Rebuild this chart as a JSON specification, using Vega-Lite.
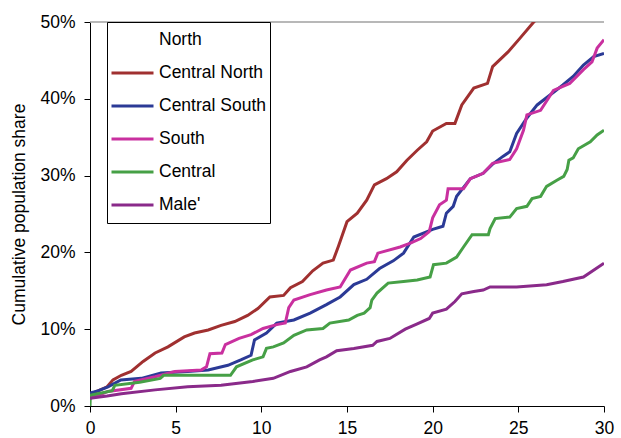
{
  "$schema": "https://vega.github.io/schema/vega-lite/v6.json",
  "autosize": {"type": "none"},
  "padding": {"left": 90, "top": 22, "right": 17, "bottom": 32},
  "width": 514,
  "height": 384,
  "config": {
    "view": {"stroke": null},
    "font": "Liberation Sans",
    "axis": {
      "grid": false,
      "domainColor": "#000000",
      "domainWidth": 1,
      "tickColor": "#000000",
      "tickSize": 6,
      "labelColor": "#000000",
      "labelFont": "Liberation Sans",
      "labelFontSize": 17.5,
      "labelFlush": false,
      "titleFont": "Liberation Sans",
      "titleFontSize": 17.5,
      "titleFontWeight": "normal",
      "titleColor": "#000000"
    }
  },
  "datasets": {
    "lines": [
      {"region": "Central North", "x": 0, "y": 0.015},
      {"region": "Central North", "x": 0.5, "y": 0.02},
      {"region": "Central North", "x": 1.0, "y": 0.025},
      {"region": "Central North", "x": 1.34, "y": 0.034},
      {"region": "Central North", "x": 1.83, "y": 0.04},
      {"region": "Central North", "x": 2.4, "y": 0.045},
      {"region": "Central North", "x": 3.1, "y": 0.058},
      {"region": "Central North", "x": 3.8, "y": 0.069},
      {"region": "Central North", "x": 4.55, "y": 0.077},
      {"region": "Central North", "x": 5.5, "y": 0.09},
      {"region": "Central North", "x": 6.1, "y": 0.095},
      {"region": "Central North", "x": 6.9, "y": 0.099},
      {"region": "Central North", "x": 7.65, "y": 0.105},
      {"region": "Central North", "x": 8.45, "y": 0.11},
      {"region": "Central North", "x": 9.2, "y": 0.118},
      {"region": "Central North", "x": 9.8, "y": 0.127},
      {"region": "Central North", "x": 10.5, "y": 0.142},
      {"region": "Central North", "x": 11.3, "y": 0.144},
      {"region": "Central North", "x": 11.7, "y": 0.154},
      {"region": "Central North", "x": 12.4, "y": 0.162},
      {"region": "Central North", "x": 13.0, "y": 0.176},
      {"region": "Central North", "x": 13.6, "y": 0.186},
      {"region": "Central North", "x": 14.2, "y": 0.19},
      {"region": "Central North", "x": 14.5, "y": 0.208},
      {"region": "Central North", "x": 15.0, "y": 0.24},
      {"region": "Central North", "x": 15.6, "y": 0.251},
      {"region": "Central North", "x": 16.15, "y": 0.268},
      {"region": "Central North", "x": 16.6, "y": 0.288},
      {"region": "Central North", "x": 17.3, "y": 0.296},
      {"region": "Central North", "x": 17.9, "y": 0.305},
      {"region": "Central North", "x": 18.5, "y": 0.32},
      {"region": "Central North", "x": 19.1, "y": 0.333},
      {"region": "Central North", "x": 19.65, "y": 0.344},
      {"region": "Central North", "x": 20.0, "y": 0.358},
      {"region": "Central North", "x": 20.8, "y": 0.368},
      {"region": "Central North", "x": 21.3, "y": 0.368},
      {"region": "Central North", "x": 21.7, "y": 0.392},
      {"region": "Central North", "x": 22.4, "y": 0.414},
      {"region": "Central North", "x": 23.2, "y": 0.42},
      {"region": "Central North", "x": 23.5, "y": 0.442},
      {"region": "Central North", "x": 24.4, "y": 0.461},
      {"region": "Central North", "x": 25.1, "y": 0.479},
      {"region": "Central North", "x": 25.9, "y": 0.5},
      {"region": "Central North", "x": 26.5, "y": 0.512},

      {"region": "Central South", "x": 0, "y": 0.017},
      {"region": "Central South", "x": 0.5, "y": 0.02},
      {"region": "Central South", "x": 1.05, "y": 0.025},
      {"region": "Central South", "x": 1.8, "y": 0.034},
      {"region": "Central South", "x": 3.0, "y": 0.036},
      {"region": "Central South", "x": 4.15, "y": 0.043},
      {"region": "Central South", "x": 5.7, "y": 0.045},
      {"region": "Central South", "x": 6.9, "y": 0.047},
      {"region": "Central South", "x": 8.05, "y": 0.053},
      {"region": "Central South", "x": 8.8, "y": 0.06},
      {"region": "Central South", "x": 9.4, "y": 0.066},
      {"region": "Central South", "x": 9.6, "y": 0.086},
      {"region": "Central South", "x": 10.3, "y": 0.095},
      {"region": "Central South", "x": 10.9, "y": 0.108},
      {"region": "Central South", "x": 11.9, "y": 0.112},
      {"region": "Central South", "x": 12.85, "y": 0.121},
      {"region": "Central South", "x": 13.8, "y": 0.132},
      {"region": "Central South", "x": 14.6, "y": 0.142},
      {"region": "Central South", "x": 15.4, "y": 0.158},
      {"region": "Central South", "x": 16.15, "y": 0.165},
      {"region": "Central South", "x": 16.9, "y": 0.179},
      {"region": "Central South", "x": 17.7, "y": 0.189},
      {"region": "Central South", "x": 18.3, "y": 0.199},
      {"region": "Central South", "x": 18.9, "y": 0.22},
      {"region": "Central South", "x": 20.0, "y": 0.23},
      {"region": "Central South", "x": 20.6, "y": 0.234},
      {"region": "Central South", "x": 20.8, "y": 0.251},
      {"region": "Central South", "x": 21.2, "y": 0.26},
      {"region": "Central South", "x": 21.4, "y": 0.273},
      {"region": "Central South", "x": 22.2, "y": 0.296},
      {"region": "Central South", "x": 22.95, "y": 0.303},
      {"region": "Central South", "x": 23.5, "y": 0.315},
      {"region": "Central South", "x": 24.1, "y": 0.325},
      {"region": "Central South", "x": 24.5, "y": 0.331},
      {"region": "Central South", "x": 24.9, "y": 0.355},
      {"region": "Central South", "x": 25.5, "y": 0.375},
      {"region": "Central South", "x": 26.1, "y": 0.392},
      {"region": "Central South", "x": 26.85, "y": 0.405},
      {"region": "Central South", "x": 27.6, "y": 0.418},
      {"region": "Central South", "x": 28.2, "y": 0.429},
      {"region": "Central South", "x": 28.8, "y": 0.444},
      {"region": "Central South", "x": 29.4, "y": 0.455},
      {"region": "Central South", "x": 30.0, "y": 0.459},

      {"region": "South", "x": 0, "y": 0.01},
      {"region": "South", "x": 0.5, "y": 0.014},
      {"region": "South", "x": 1.05, "y": 0.019},
      {"region": "South", "x": 2.4, "y": 0.023},
      {"region": "South", "x": 2.6, "y": 0.032},
      {"region": "South", "x": 3.8, "y": 0.038},
      {"region": "South", "x": 4.95, "y": 0.045},
      {"region": "South", "x": 6.5, "y": 0.047},
      {"region": "South", "x": 6.8, "y": 0.051},
      {"region": "South", "x": 7.0, "y": 0.068},
      {"region": "South", "x": 7.7, "y": 0.069},
      {"region": "South", "x": 7.9, "y": 0.08},
      {"region": "South", "x": 8.7, "y": 0.088},
      {"region": "South", "x": 9.4, "y": 0.093},
      {"region": "South", "x": 10.1, "y": 0.101},
      {"region": "South", "x": 10.9, "y": 0.106},
      {"region": "South", "x": 11.4, "y": 0.108},
      {"region": "South", "x": 11.6, "y": 0.128},
      {"region": "South", "x": 11.9, "y": 0.138},
      {"region": "South", "x": 12.85, "y": 0.145},
      {"region": "South", "x": 13.8, "y": 0.151},
      {"region": "South", "x": 14.6, "y": 0.155},
      {"region": "South", "x": 15.2, "y": 0.177},
      {"region": "South", "x": 16.15, "y": 0.186},
      {"region": "South", "x": 16.6, "y": 0.188},
      {"region": "South", "x": 16.8, "y": 0.199},
      {"region": "South", "x": 18.1, "y": 0.207},
      {"region": "South", "x": 18.7, "y": 0.212},
      {"region": "South", "x": 19.3, "y": 0.218},
      {"region": "South", "x": 19.8, "y": 0.227},
      {"region": "South", "x": 20.0, "y": 0.245},
      {"region": "South", "x": 20.4, "y": 0.262},
      {"region": "South", "x": 20.8, "y": 0.268},
      {"region": "South", "x": 20.9, "y": 0.283},
      {"region": "South", "x": 21.8, "y": 0.283},
      {"region": "South", "x": 22.2, "y": 0.296},
      {"region": "South", "x": 22.95, "y": 0.303},
      {"region": "South", "x": 23.5, "y": 0.316},
      {"region": "South", "x": 24.5, "y": 0.321},
      {"region": "South", "x": 24.9, "y": 0.335},
      {"region": "South", "x": 25.3, "y": 0.359},
      {"region": "South", "x": 25.5, "y": 0.379},
      {"region": "South", "x": 26.3, "y": 0.385},
      {"region": "South", "x": 27.05, "y": 0.411},
      {"region": "South", "x": 28.0, "y": 0.42},
      {"region": "South", "x": 28.8, "y": 0.438},
      {"region": "South", "x": 29.3, "y": 0.448},
      {"region": "South", "x": 29.6, "y": 0.466},
      {"region": "South", "x": 30.0, "y": 0.477},

      {"region": "Central", "x": 0, "y": 0.0},
      {"region": "Central", "x": 0.02, "y": 0.014},
      {"region": "Central", "x": 1.3, "y": 0.02},
      {"region": "Central", "x": 1.45, "y": 0.027},
      {"region": "Central", "x": 2.9, "y": 0.031},
      {"region": "Central", "x": 4.1, "y": 0.036},
      {"region": "Central", "x": 4.3, "y": 0.04},
      {"region": "Central", "x": 8.2, "y": 0.04},
      {"region": "Central", "x": 8.55, "y": 0.051},
      {"region": "Central", "x": 9.5, "y": 0.06},
      {"region": "Central", "x": 10.1, "y": 0.064},
      {"region": "Central", "x": 10.3, "y": 0.075},
      {"region": "Central", "x": 10.7, "y": 0.077},
      {"region": "Central", "x": 11.3, "y": 0.082},
      {"region": "Central", "x": 11.9, "y": 0.092},
      {"region": "Central", "x": 12.65, "y": 0.099},
      {"region": "Central", "x": 13.6, "y": 0.101},
      {"region": "Central", "x": 14.0, "y": 0.108},
      {"region": "Central", "x": 15.1, "y": 0.112},
      {"region": "Central", "x": 15.6, "y": 0.118},
      {"region": "Central", "x": 16.0, "y": 0.121},
      {"region": "Central", "x": 16.35, "y": 0.128},
      {"region": "Central", "x": 16.45, "y": 0.138},
      {"region": "Central", "x": 16.75, "y": 0.147},
      {"region": "Central", "x": 17.4, "y": 0.16},
      {"region": "Central", "x": 18.3, "y": 0.162},
      {"region": "Central", "x": 19.1, "y": 0.164},
      {"region": "Central", "x": 19.85, "y": 0.168},
      {"region": "Central", "x": 20.05, "y": 0.184},
      {"region": "Central", "x": 20.8, "y": 0.186},
      {"region": "Central", "x": 21.4, "y": 0.194},
      {"region": "Central", "x": 21.8, "y": 0.207},
      {"region": "Central", "x": 22.3, "y": 0.223},
      {"region": "Central", "x": 23.25, "y": 0.223},
      {"region": "Central", "x": 23.35, "y": 0.231},
      {"region": "Central", "x": 23.65, "y": 0.244},
      {"region": "Central", "x": 24.5, "y": 0.246},
      {"region": "Central", "x": 24.9, "y": 0.257},
      {"region": "Central", "x": 25.5, "y": 0.26},
      {"region": "Central", "x": 25.8, "y": 0.27},
      {"region": "Central", "x": 26.3, "y": 0.273},
      {"region": "Central", "x": 26.65, "y": 0.286},
      {"region": "Central", "x": 27.25, "y": 0.294},
      {"region": "Central", "x": 27.65, "y": 0.299},
      {"region": "Central", "x": 27.85, "y": 0.308},
      {"region": "Central", "x": 27.95, "y": 0.32},
      {"region": "Central", "x": 28.2, "y": 0.323},
      {"region": "Central", "x": 28.5, "y": 0.335},
      {"region": "Central", "x": 29.2, "y": 0.344},
      {"region": "Central", "x": 29.6, "y": 0.353},
      {"region": "Central", "x": 30.0, "y": 0.359},

      {"region": "Male'", "x": 0, "y": 0.01},
      {"region": "Male'", "x": 1.0, "y": 0.013},
      {"region": "Male'", "x": 1.83, "y": 0.016},
      {"region": "Male'", "x": 3.8, "y": 0.021},
      {"region": "Male'", "x": 5.7, "y": 0.025},
      {"region": "Male'", "x": 7.65, "y": 0.027},
      {"region": "Male'", "x": 9.5, "y": 0.032},
      {"region": "Male'", "x": 10.7, "y": 0.036},
      {"region": "Male'", "x": 11.7, "y": 0.045},
      {"region": "Male'", "x": 12.65, "y": 0.051},
      {"region": "Male'", "x": 13.4, "y": 0.06},
      {"region": "Male'", "x": 13.8, "y": 0.064},
      {"region": "Male'", "x": 14.4, "y": 0.072},
      {"region": "Male'", "x": 15.4, "y": 0.075},
      {"region": "Male'", "x": 16.5, "y": 0.079},
      {"region": "Male'", "x": 16.75, "y": 0.084},
      {"region": "Male'", "x": 17.5, "y": 0.088},
      {"region": "Male'", "x": 18.4, "y": 0.1},
      {"region": "Male'", "x": 19.1, "y": 0.107},
      {"region": "Male'", "x": 19.8, "y": 0.114},
      {"region": "Male'", "x": 20.0, "y": 0.121},
      {"region": "Male'", "x": 20.8, "y": 0.126},
      {"region": "Male'", "x": 21.3, "y": 0.136},
      {"region": "Male'", "x": 21.7, "y": 0.146},
      {"region": "Male'", "x": 22.4, "y": 0.149},
      {"region": "Male'", "x": 22.95, "y": 0.151},
      {"region": "Male'", "x": 23.35, "y": 0.155},
      {"region": "Male'", "x": 24.9, "y": 0.155},
      {"region": "Male'", "x": 26.65, "y": 0.158},
      {"region": "Male'", "x": 27.6, "y": 0.162},
      {"region": "Male'", "x": 28.8, "y": 0.168},
      {"region": "Male'", "x": 30.0, "y": 0.186}
    ],
    "top": [{"y": 0.5}]
  },
  "layer": [
    {
      "data": {"name": "top"},
      "mark": {"type": "rule", "color": "#a0a0a0", "strokeWidth": 1.5},
      "encoding": {
        "y": {"field": "y", "type": "quantitative"}
      }
    },
    {
      "data": {"name": "lines"},
      "mark": {"type": "line", "strokeWidth": 3, "clip": true, "interpolate": "linear"},
      "encoding": {
        "x": {
          "field": "x", "type": "quantitative",
          "scale": {"domain": [0, 30], "nice": false},
          "axis": {"title": null, "values": [0, 5, 10, 15, 20, 25, 30], "labelPadding": 7}
        },
        "y": {
          "field": "y", "type": "quantitative",
          "scale": {"domain": [0, 0.5], "nice": false},
          "axis": {"title": "Cumulative population share", "format": ".0%", "values": [0, 0.1, 0.2, 0.3, 0.4, 0.5], "labelPadding": 9, "titlePadding": 11}
        },
        "color": {
          "field": "region", "type": "nominal",
          "scale": {
            "domain": ["North", "Central North", "Central South", "South", "Central", "Male'"],
            "range": ["#ffffff", "#a03030", "#2b3a96", "#c9309f", "#46a046", "#8a2a8a"]
          },
          "legend": {
            "title": null,
            "orient": "none",
            "legendX": 17,
            "legendY": 0,
            "padding": 3,
            "strokeColor": "#000000",
            "fillColor": "#ffffff",
            "symbolType": "stroke",
            "symbolSize": 1764,
            "symbolStrokeWidth": 3,
            "clipHeight": 30,
            "rowPadding": 3,
            "labelOffset": 4,
            "labelFont": "Liberation Sans",
            "labelFontSize": 17.5,
            "labelColor": "#000000",
            "labelLimit": 300
          }
        }
      }
    }
  ]
}
